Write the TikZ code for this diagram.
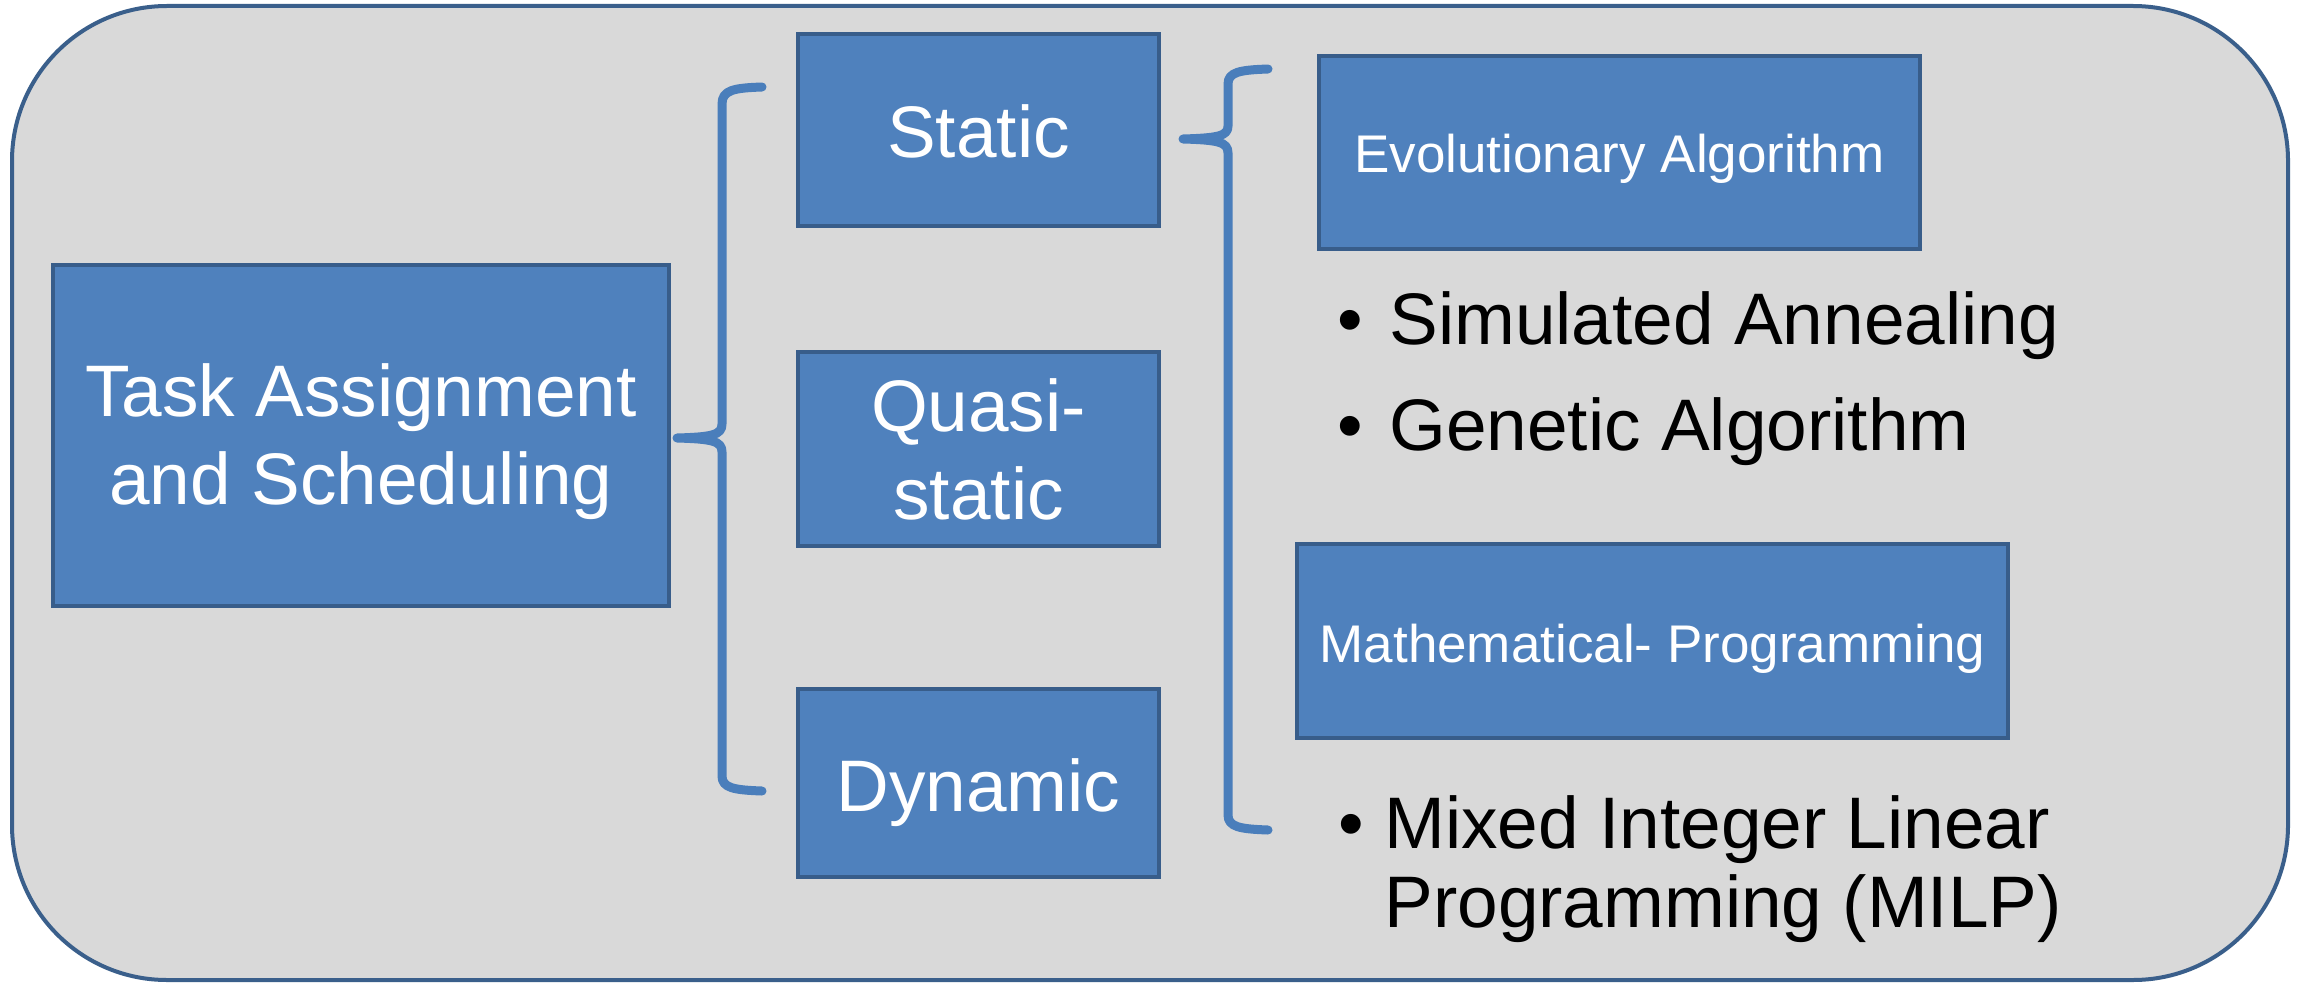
\documentclass[tikz,border=0pt]{standalone}
\usepackage{fontspec}
\setmainfont{Liberation Sans}
\definecolor{boxfill}{HTML}{4F81BD}
\definecolor{boxline}{HTML}{385D8A}
\definecolor{panelfill}{HTML}{D9D9D9}
\definecolor{panelline}{HTML}{3A5F8B}
\definecolor{bracecol}{HTML}{4A7EBB}
\begin{document}
\begin{tikzpicture}[x=0.5pt,y=-0.5pt,
  bluebox/.style={draw=boxline, fill=boxfill, line width=2pt, text=white, align=center, inner sep=0pt},
  bigtext/.style={font=\fontsize{36.5}{44}\selectfont},
  smalltext/.style={font=\fontsize{26.5}{32}\selectfont},
  bullettext/.style={font=\fontsize{36.5}{39.2}\selectfont, text=black, inner sep=0pt, align=left, anchor=base west},
  bracepath/.style={draw=bracecol, line width=4.5pt, line cap=round, line join=round}]
\useasboundingbox (0,0) rectangle (2300,984);
% panel
\draw[fill=panelfill, draw=panelline, line width=2pt, rounded corners=77.5pt] (12,6) rectangle (2288,980);
% boxes
\node[bluebox,bigtext,minimum width=308pt,minimum height=170.5pt] (task) at (361,435.5)
  {\rule{0pt}{33pt}Task Assignment\\and Scheduling\rule[-3pt]{0pt}{3pt}};
\node[bluebox,bigtext,minimum width=180.5pt,minimum height=96pt,text height=28pt,text depth=0pt] (static) at (978.5,130) {Static};
\node[bluebox,bigtext,minimum width=180.5pt,minimum height=97pt] (quasi) at (978.5,449)
  {\rule{0pt}{32pt}Quasi-\\static\rule[-6pt]{0pt}{6pt}};
\node[bluebox,bigtext,minimum width=180.5pt,minimum height=94pt,text height=28pt,text depth=0pt] (dynamic) at (978.5,783) {Dynamic};
\node[bluebox,smalltext,minimum width=300.5pt,minimum height=96.5pt,text height=20pt,text depth=0pt] (evo) at (1619.5,152.5) {Evolutionary Algorithm};
\node[bluebox,smalltext,minimum width=355.5pt,minimum height=97pt,text height=21pt,text depth=0pt] (math) at (1652.5,641) {Mathematical- Programming};
% bullet items
\node[bullettext] (sa) at (1337,344) {\makebox[26pt][l]{\textbullet}Simulated Annealing};
\node[bullettext] (ga) at (1337,450) {\makebox[26pt][l]{\textbullet}Genetic Algorithm};
\node[bullettext] (milp) at (1384,927) {\llap{\textbullet\hspace{10pt}}Mixed Integer Linear\\Programming (MILP)};
% left brace
\coordinate (lb-top) at (762,87);
\coordinate (lb-tip) at (677,438);
\coordinate (lb-bot) at (762,791);
\draw[bracepath] (lb-top) .. controls (734,88) and (722,90) .. (722,104) -- (722,424)
  .. controls (722,435) and (712,437) .. (lb-tip)
  .. controls (712,439) and (722,441) .. (722,452) -- (722,776)
  .. controls (722,788) and (734,790) .. (lb-bot);
% right brace
\coordinate (rb-top) at (1268,69);
\coordinate (rb-tip) at (1183,139);
\coordinate (rb-bot) at (1268,830);
\draw[bracepath] (rb-top) .. controls (1240,70) and (1228,72) .. (1228,84) -- (1228,126)
  .. controls (1228,136) and (1218,138) .. (rb-tip)
  .. controls (1218,140) and (1228,142) .. (1228,153) -- (1228,815)
  .. controls (1228,827) and (1240,829) .. (rb-bot);
\end{tikzpicture}
\end{document}
